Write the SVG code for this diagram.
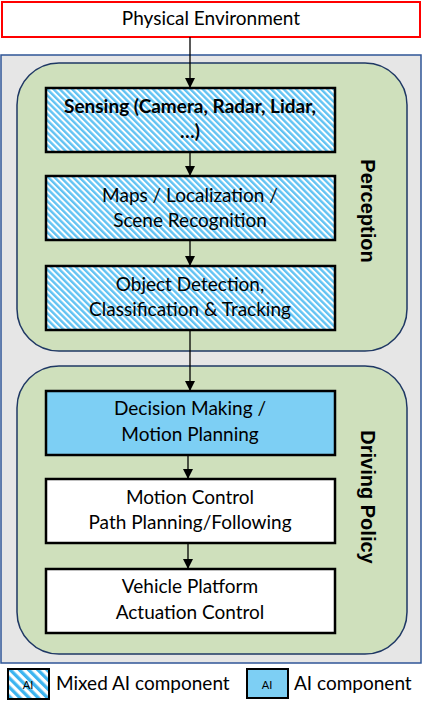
<svg xmlns="http://www.w3.org/2000/svg" width="422" height="702" viewBox="0 0 422 702">
<defs>
<pattern id="hatch" patternUnits="userSpaceOnUse" width="4.4" height="4.4" patternTransform="rotate(-45)">
<rect width="4.4" height="4.4" fill="#ffffff"/>
<rect width="2.4" height="4.4" fill="#62c3f3"/>
</pattern>
<pattern id="hatchL" patternUnits="userSpaceOnUse" width="6.5" height="6.5" patternTransform="rotate(-45)">
<rect width="6.5" height="6.5" fill="#ffffff"/>
<rect width="3.3" height="6.5" fill="#3cb4f0"/>
</pattern>
<marker id="arr" markerWidth="10" markerHeight="10" refX="9" refY="5" orient="auto" markerUnits="userSpaceOnUse">
<path d="M0,0 L10,5 L0,10 z" fill="#000"/>
</marker>
</defs>
<style>
.t{font-family:Lato,"Liberation Sans",sans-serif;font-size:19px;fill:#000;text-anchor:middle}
.b{font-weight:bold}
.box{stroke:#000;stroke-width:2.5}
.grp{fill:#cfe0bc;stroke:#1f3864;stroke-width:1.5}
.lbl{font-family:"Liberation Sans",Arial,sans-serif;font-weight:bold;font-size:20px;fill:#000;text-anchor:middle}
.c{stroke:#000;stroke-width:1.3;fill:none;marker-end:url(#arr)}
</style>
<g id="physical-environment">
<rect x="2" y="2" width="418" height="35" fill="#fff" stroke="#ff0000" stroke-width="2"/>
<text class="t" x="211" y="25">Physical Environment</text>
</g>
<g id="system">
<rect x="1" y="55" width="420" height="608" fill="#e6e6e6" stroke="#2f5597" stroke-width="1.5"/>
</g>
<g id="perception">
<rect class="grp" x="17" y="63" width="390" height="288" rx="42" ry="42"/>
<text class="lbl" transform="translate(361,211) rotate(90)">Perception</text>
</g>
<g id="driving-policy">
<rect class="grp" x="17" y="366" width="390" height="288" rx="42" ry="42"/>
<text class="lbl" transform="translate(361,497) rotate(90)">Driving Policy</text>
</g>
<g id="sensing">
<rect class="box" x="46" y="88" width="289" height="64" fill="url(#hatch)"/>
<text class="t b" x="190" y="113">Sensing (Camera, Radar, Lidar,</text>
<text class="t b" x="190" y="138">…)</text>
</g>
<g id="maps">
<rect class="box" x="46" y="176" width="289" height="64" fill="url(#hatch)"/>
<text class="t" x="190" y="202">Maps / Localization /</text>
<text class="t" x="190" y="227">Scene Recognition</text>
</g>
<g id="object-detection">
<rect class="box" x="46" y="266" width="289" height="64" fill="url(#hatch)"/>
<text class="t" x="190" y="291">Object Detection,</text>
<text class="t" x="190" y="316">Classification &amp; Tracking</text>
</g>
<g id="decision-making">
<rect class="box" x="46" y="391" width="289" height="64" fill="#7dcff4"/>
<text class="t" x="190" y="415">Decision Making /</text>
<text class="t" x="190" y="441">Motion Planning</text>
</g>
<g id="motion-control">
<rect class="box" x="46" y="479" width="289" height="64" fill="#fff"/>
<text class="t" x="190" y="504">Motion Control</text>
<text class="t" x="190" y="529">Path Planning/Following</text>
</g>
<g id="vehicle-platform">
<rect class="box" x="46" y="569" width="289" height="64" fill="#fff"/>
<text class="t" x="190" y="593">Vehicle Platform</text>
<text class="t" x="190" y="619">Actuation Control</text>
</g>
<g id="connectors">
<line class="c" x1="190" y1="37" x2="190" y2="87"/>
<line class="c" x1="190" y1="152" x2="190" y2="175"/>
<line class="c" x1="190" y1="240" x2="190" y2="265"/>
<line class="c" x1="190" y1="330" x2="190" y2="390"/>
<line class="c" x1="188" y1="455" x2="188" y2="478"/>
<line class="c" x1="188" y1="543" x2="188" y2="568"/>
</g>
<g id="legend-mixed">
<rect x="8" y="669" width="41" height="30" fill="url(#hatchL)" stroke="#000" stroke-width="2"/>
<text x="28" y="689" style="font-family:Lato,'Liberation Sans',sans-serif;font-size:11px;text-anchor:middle">AI</text>
<text x="56" y="690" style="font-family:Lato,'Liberation Sans',sans-serif;font-size:19px">Mixed AI component</text>
</g>
<g id="legend-ai">
<rect x="247" y="669" width="41" height="29" fill="#7dcff4" stroke="#000" stroke-width="2"/>
<text x="267" y="689" style="font-family:Lato,'Liberation Sans',sans-serif;font-size:11px;text-anchor:middle">AI</text>
<text x="294" y="690" style="font-family:Lato,'Liberation Sans',sans-serif;font-size:19px">AI component</text>
</g>
</svg>
